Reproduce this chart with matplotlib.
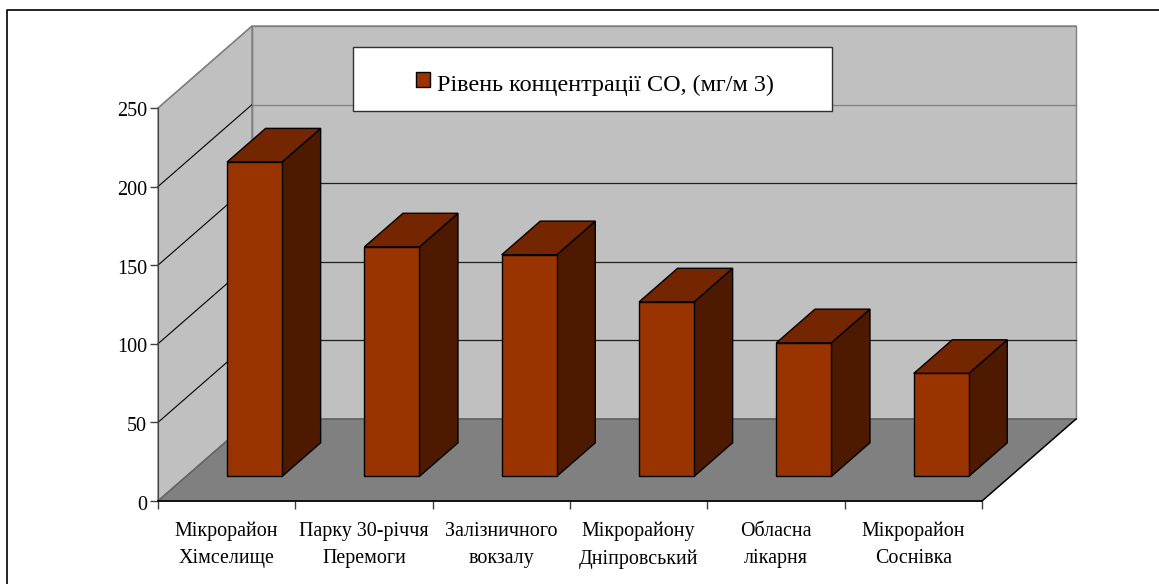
import matplotlib
matplotlib.use('Agg')
import matplotlib.pyplot as plt
from matplotlib.patches import Polygon, Rectangle
from matplotlib.transforms import ScaledTranslation

plt.rcParams['font.family'] = ['Liberation Serif', 'DejaVu Sans']

categories = ['Мікрорайон\nХімселище', 'Парку 30-річчя\nПеремоги', 'Залізничного\nвокзалу',
              'Мікрорайону\nДніпровський', 'Обласна\nлікарня', 'Мікрорайон\nСоснівка']
values = [200, 146, 141, 111, 85, 65.5]
y_ticks = [0, 50, 100, 150, 200, 250]
legend_label = 'Рівень концентрації СО, (мг/м 3)'

W, H = 1159, 584
# depth of the fake 3d box, in data units
DX = 94 / (824 / 6)
DY = 82 / (393 / 250)
BAR_W = 55 / (824 / 6)
BAR_Z = 0.30   # front of bar, fraction of depth
BAR_D = 0.41   # bar depth, fraction of depth

front = '#993300'
top = '#732600'
side = '#4d1a00'
wall = '#c0c0c0'
floor = '#808080'

fig = plt.figure(figsize=(W / 100, H / 100), dpi=100)
ax = fig.add_axes([158 / W, 1 - 501 / H, 824 / W, 393 / H])
ax.set_xlim(0, 6)
ax.set_ylim(0, 250)
ax.patch.set_visible(False)


def poly(pts, fc, ec, lw=1.0, z=1):
    ax.add_patch(Polygon(pts, closed=True, fc=fc, ec=ec, lw=lw, zorder=z,
                         clip_on=False, joinstyle='miter'))


# walls and floor
poly([(DX, DY), (6 + DX, DY), (6 + DX, 250 + DY), (DX, 250 + DY)], wall, '#808080')
poly([(0, 0), (DX, DY), (DX, 250 + DY), (0, 250)], wall, '#808080')
poly([(0, 0), (6, 0), (6 + DX, DY), (DX, DY)], floor, '#666666')
ax.plot([6, 6 + DX], [0, DY], color='black', lw=1, zorder=1.5, clip_on=False)

# gridlines: the side diagonals are black, back wall ones dark but 200 is grey
for v in y_ticks[1:-1]:
    ax.plot([0, DX], [v, v + DY], color='black', lw=0.8, zorder=1.2, clip_on=False)
    c = '#808080' if v == 200 else '#202020'
    ax.plot([DX, 6 + DX], [v + DY, v + DY], color=c, lw=0.9, zorder=1.2, clip_on=False)
ax.plot([0, DX, 6 + DX], [250, 250 + DY, 250 + DY], color='#808080', lw=1, zorder=1.2, clip_on=False)
ax.plot([0, DX, 6 + DX], [0, DY, DY], color='#666666', lw=1, zorder=1.2, clip_on=False)
ax.plot([DX, DX], [DY, 250 + DY], color='#808080', lw=1, zorder=1.2, clip_on=False)

# bars
for i, v in enumerate(values):
    x0 = i + 0.5 - BAR_W / 2 + DX * BAR_Z - 0.002
    x1 = x0 + BAR_W
    y0 = DY * BAR_Z
    y1 = y0 + v
    ddx = DX * BAR_D
    ddy = DY * BAR_D
    poly([(x1, y0), (x1 + ddx, y0 + ddy), (x1 + ddx, y1 + ddy), (x1, y1)], side, 'black', z=3)
    poly([(x0, y1), (x1, y1), (x1 + ddx, y1 + ddy), (x0 + ddx, y1 + ddy)], top, 'black', z=3)
    poly([(x0, y0), (x1, y0), (x1, y1), (x0, y1)], front, 'black', z=3)

for s in ['top', 'right']:
    ax.spines[s].set_visible(False)
ax.spines['left'].set_color('#404040')
ax.spines['bottom'].set_color('black')
ax.spines['bottom'].set_linewidth(1.2)

ax.set_yticks(y_ticks)
ax.tick_params(axis='y', labelsize=14.5, length=6, width=1, color='#404040', pad=2)
# labels sit a bit under their ticks in the original
for lab in ax.get_yticklabels():
    lab.set_transform(lab.get_transform() + ScaledTranslation(0, -1.5 / 100, fig.dpi_scale_trans))
ax.set_xticks(range(7))
ax.set_xticklabels([])
ax.set_xticks([i + 0.5 for i in range(6)], minor=True)
ax.set_xticklabels(categories, minor=True, fontsize=14.4, linespacing=1.56)
ax.tick_params(axis='x', which='major', length=6, width=1, color='#404040')
ax.tick_params(axis='x', which='minor', length=0, pad=15)

# legend box
fig.patches.append(Rectangle((353 / W, 1 - 111 / H), 479 / W, 64 / H, transform=fig.transFigure,
                             fc='white', ec='#303030', lw=1, zorder=5))
fig.patches.append(Rectangle((416 / W, 1 - 87 / H), 14 / W, 15 / H, transform=fig.transFigure,
                             fc=front, ec='black', lw=1, zorder=6))
fig.text(437 / W, 1 - 91 / H, legend_label, fontsize=17.4, va='baseline', ha='left', zorder=7)

# outer frame: only top and left show in the picture
fig.add_artist(plt.Line2D([7 / W, 7 / W, 1], [0, 1 - 10 / H, 1 - 10 / H],
                          transform=fig.transFigure, color='black', lw=1.2))

fig.savefig('out.png', dpi=100)
